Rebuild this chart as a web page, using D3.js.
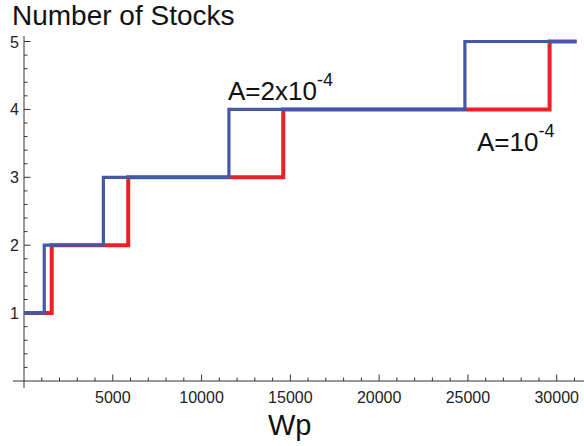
<!DOCTYPE html>
<html>
<head>
<meta charset="utf-8">
<script src="https://cdn.jsdelivr.net/npm/d3@7"></script>
<style>
  body { margin: 0; background: #fff; }
  text { font-family: "Liberation Sans", Arial, sans-serif; }
</style>
</head>
<body>
<div id="chart"></div>
<script>
// datos: umbrales de Wp donde cambia el numero de acciones
var wpRed  = [0, 1560, 5870, 14600, 29600, 31120];   // A = 10^-4
var wpBlue = [0, 1140, 4470, 11540, 24830, 31120];   // A = 2x10^-4
var stocks = [1, 2, 3, 4, 5, 5];
var xTickValues = [5000, 10000, 15000, 20000, 25000, 30000];
var yTickValues = [1, 2, 3, 4, 5];

var width = 584, height = 446;

var svg = d3.select("#chart").append("svg")
  .attr("width", width)
  .attr("height", height);

// escalas
var x = d3.scaleLinear().domain([0, 30000]).range([24, 556.7]);
var y = d3.scaleLinear().domain([0, 5]).range([381, 41.5]);

var axisColor = "#333";

// eje x
svg.append("line")
  .attr("x1", 13).attr("x2", width)
  .attr("y1", y(0)).attr("y2", y(0))
  .style("stroke", axisColor).style("stroke-width", 1);

// eje y
svg.append("line")
  .attr("x1", x(0)).attr("x2", x(0))
  .attr("y1", 36).attr("y2", 388)
  .style("stroke", axisColor).style("stroke-width", 1);

// ticks menores de x (cada 1000)
svg.selectAll(".xminor")
  .data(d3.range(1000, 32000, 1000))
  .enter().append("line")
  .attr("x1", function(d){ return x(d); })
  .attr("x2", function(d){ return x(d); })
  .attr("y1", y(0))
  .attr("y2", function(d){ return y(0) - (d % 5000 === 0 ? 6.5 : 3.5); })
  .style("stroke", axisColor).style("stroke-width", 1);

// ticks menores de y (cada 0.2)
svg.selectAll(".yminor")
  .data(d3.range(1, 26).map(function(i){ return i / 5; }))
  .enter().append("line")
  .attr("x1", x(0))
  .attr("x2", function(d, i){ return x(0) + ((i + 1) % 5 === 0 ? 6.5 : 3.5); })
  .attr("y1", function(d){ return y(d); })
  .attr("y2", function(d){ return y(d); })
  .style("stroke", axisColor).style("stroke-width", 1);

// etiquetas de x
svg.selectAll(".xlab")
  .data(xTickValues)
  .enter().append("text")
  .attr("x", function(d){ return x(d); })
  .attr("y", 402.5)
  .attr("text-anchor", "middle")
  .style("font-size", "16px")
  .style("fill", "#222")
  .text(function(d){ return d; });

// etiquetas de y
svg.selectAll(".ylab")
  .data(yTickValues)
  .enter().append("text")
  .attr("x", 19)
  .attr("y", function(d){ return y(d) + 6; })
  .attr("text-anchor", "end")
  .style("font-size", "16px")
  .style("fill", "#222")
  .text(function(d){ return d; });

// lineas escalonadas
var line = d3.line()
  .curve(d3.curveStepAfter)
  .x(function(d){ return x(d[0]); })
  .y(function(d){ return y(d[1]); });

svg.append("path")
  .datum(d3.zip(wpRed, stocks))
  .attr("d", line)
  .style("fill", "none")
  .style("stroke", "#ee1f26")
  .style("stroke-width", 4);

svg.append("path")
  .datum(d3.zip(wpBlue, stocks))
  .attr("d", line)
  .style("fill", "none")
  .style("stroke", "#4757a8")
  .style("stroke-width", 3.2);

// titulos
svg.append("text")
  .attr("x", 12).attr("y", 25)
  .style("font-size", "28px")
  .style("fill", "#111")
  .text("Number of Stocks");

svg.append("text")
  .attr("x", 268).attr("y", 435)
  .style("font-size", "29px")
  .style("fill", "#111")
  .text("Wp");

// anotaciones
var a1 = svg.append("text")
  .attr("x", 228).attr("y", 100)
  .style("font-size", "26px")
  .style("fill", "#111");
a1.append("tspan").text("A=2x10");
a1.append("tspan").attr("dy", -14).style("font-size", "18px").text("-4");

var a2 = svg.append("text")
  .attr("x", 477).attr("y", 151)
  .style("font-size", "26px")
  .style("fill", "#111");
a2.append("tspan").text("A=10");
a2.append("tspan").attr("dy", -14).style("font-size", "18px").text("-4");
</script>
</body>
</html>
